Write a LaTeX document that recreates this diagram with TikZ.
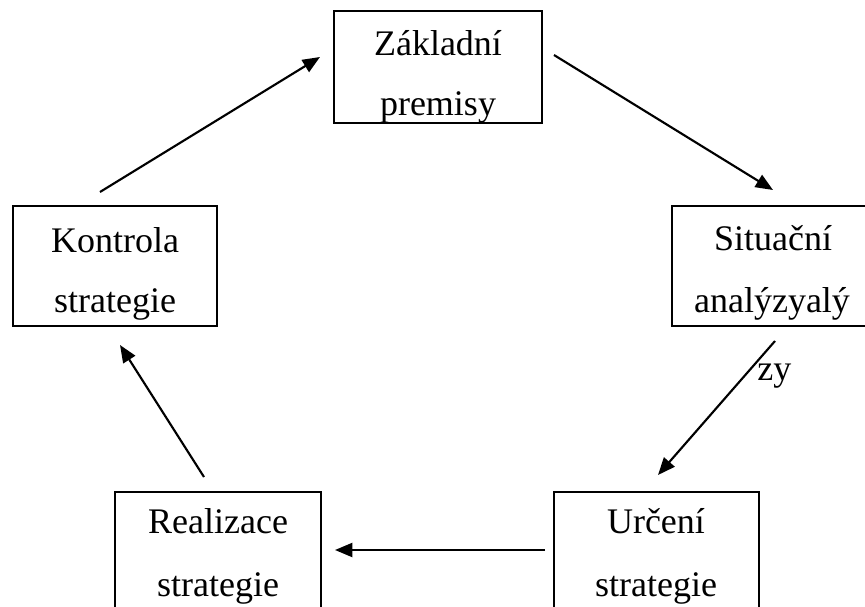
\documentclass[tikz,border=0pt]{standalone}
\usepackage{fontspec}
\setmainfont{Liberation Serif}
\usetikzlibrary{arrows.meta}
\begin{document}
\begin{tikzpicture}[x=0.75pt,y=-0.75pt,
  box/.style={draw, line width=1.6pt, inner sep=0pt},
  lbl/.style={anchor=base, font=\fontsize{27}{32}\selectfont, inner sep=0pt},
  conn/.style={line width=1.6pt, -{Triangle[length=13pt,width=10.5pt]}}]
\useasboundingbox (0,0) rectangle (865,607);
\clip (0,0) rectangle (865,607);
% boxes
\node[box, minimum width=156pt, minimum height=84pt] (zakl) at (438,67) {};
\node[box, minimum width=153pt, minimum height=90pt] (kont) at (115,266) {};
\node[box, minimum width=153pt, minimum height=90pt] (situ) at (774,266) {};
\node[box, minimum width=154.5pt, minimum height=90pt] (real) at (218,552) {};
\node[box, minimum width=153.75pt, minimum height=90pt] (urce) at (656.5,552) {};
% texts
\node[lbl] (zakl1) at (438,55) {Základní};
\node[lbl] (zakl2) at (438,115) {premisy};
\node[lbl] (kont1) at (115,252) {Kontrola};
\node[lbl] (kont2) at (115,312) {strategie};
\node[lbl] (situ1) at (773,250) {Situační};
\node[lbl] (situ2) at (772,312) {analýzyalý};
\node[lbl, anchor=base west] (zy) at (757,380) {zy};
\node[lbl] (real1) at (218,533) {Realizace};
\node[lbl] (real2) at (218,596) {strategie};
\node[lbl] (urce1) at (656,533) {Určení};
\node[lbl] (urce2) at (656,596) {strategie};
% connector end points
\coordinate (a1) at (100,192);  \coordinate (b1) at (320,57);
\coordinate (a2) at (554,55);   \coordinate (b2) at (773,190);
\coordinate (a3) at (775,341);  \coordinate (b3) at (658,475);
\coordinate (a4) at (545,550);  \coordinate (b4) at (335,550);
\coordinate (a5) at (204,477);  \coordinate (b5) at (120,345);
\draw[conn] (a1) -- (b1);
\draw[conn] (a2) -- (b2);
\draw[conn] (a3) -- (b3);
\draw[conn] (a4) -- (b4);
\draw[conn] (a5) -- (b5);
\end{tikzpicture}
\end{document}
